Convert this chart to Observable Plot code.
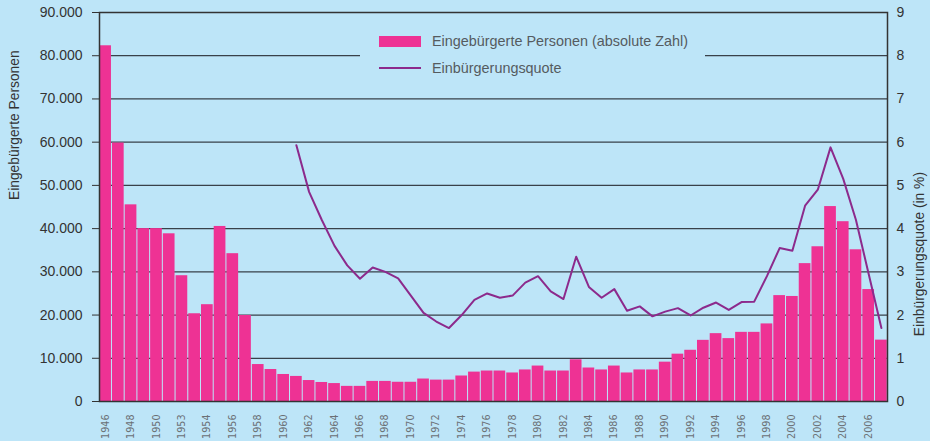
<!DOCTYPE html>
<html>
<head>
<meta charset="utf-8">
<script src="https://cdn.jsdelivr.net/npm/d3@7"></script>
<script src="https://cdn.jsdelivr.net/npm/@observablehq/plot@0.6"></script>
<style>
  html, body { margin: 0; padding: 0; background: #bde5f8; }
  #wrap { position: relative; width: 930px; height: 441px; overflow: hidden; background: #bde5f8; }
  #legend { position: absolute; left: 360px; top: 26px; width: 345px; height: 58px; background: #bde5f8;
            font-family: "Liberation Sans", Arial, sans-serif; font-size: 14.4px; color: #555b60; }
  #legend .item { position: absolute; left: 19px; height: 16px; display: flex; align-items: center; white-space: nowrap; }
  #legend .sw-bar { width: 42px; height: 11px; background: #ee3294; margin-right: 11px; }
  #legend .sw-line { width: 42px; height: 2px; background: #8c2a8c; margin-right: 11px; }
</style>
</head>
<body>
<div id="wrap">
  <div id="chart"></div>
  <div id="legend">
    <div class="item" style="top:7px"><span class="sw-bar"></span><span>Eingebürgerte Personen (absolute Zahl)</span></div>
    <div class="item" style="top:34px"><span class="sw-line"></span><span>Einbürgerungsquote</span></div>
  </div>
</div>
<script>
// ---- data ----
const years = [1946,1947,1948,1949,1950,1951,1952,1953,1954,1955,1956,1957,1958,1959,1960,
  1961,1962,1963,1964,1965,1966,1967,1968,1969,1970,1971,1972,1973,1974,1975,1976,1977,1978,
  1979,1980,1981,1982,1983,1984,1985,1986,1987,1988,1989,1990,1991,1992,1993,1994,1995,1996,
  1997,1998,1999,2000,2001,2002,2003,2004,2005,2006,2007];
const persons = [82300,59800,45500,40000,40000,38800,29100,20300,22400,40500,34200,19900,8550,7400,6250,
  5800,4850,4400,4150,3500,3500,4650,4650,4450,4450,5200,4950,4950,5900,6800,7050,7050,6600,
  7300,8200,7050,7050,9650,7750,7300,8200,6600,7300,7300,9100,10950,11850,14150,15700,14550,16000,
  16000,17950,24500,24300,31900,35800,45100,41600,35100,25900,14200];
const rateYears = [1961,1962,1963,1964,1965,1966,1967,1968,1969,1970,1971,1972,1973,1974,1975,
  1976,1977,1978,1979,1980,1981,1982,1983,1984,1985,1986,1987,1988,1989,1990,1991,1992,1993,
  1994,1995,1996,1997,1998,1999,2000,2001,2002,2003,2004,2005,2006,2007];
const rates = [5.93,4.85,4.2,3.6,3.15,2.84,3.1,3.0,2.85,2.45,2.05,1.85,1.70,2.0,2.35,
  2.5,2.4,2.45,2.75,2.9,2.55,2.37,3.35,2.65,2.4,2.6,2.1,2.2,1.97,2.08,2.16,1.99,2.17,
  2.29,2.12,2.3,2.31,2.9,3.55,3.49,4.53,4.9,5.88,5.15,4.2,2.95,1.70];
const tickYears = [1946,1948,1950,1952,1954,1956,1958,1960,1962,1964,1966,1968,1970,1972,1974,
  1976,1978,1980,1982,1984,1986,1988,1990,1992,1994,1996,1998,2000,2002,2004,2006];
const tickLabels = ["1946","1948","1950","1953","1954","1956","1958","1960","1962","1964","1966","1968","1970","1972","1974",
  "1976","1978","1980","1982","1984","1986","1988","1990","1992","1994","1996","1998","2000","2002","2004","2006"];
const personTicks = [0,10000,20000,30000,40000,50000,60000,70000,80000,90000];
const rateTicks = [0,1,2,3,4,5,6,7,8,9];
const leftTitle = "Eingebürgerte Personen";
const rightTitle = "Einbürgerungsquote (in %)";

// ---- derived tables ----
const RATE_FACTOR = 10000; // secondary axis: 1 % ↔ 10.000 persons
const bars = years.map((year, i) => ({year, value: persons[i]}));
const quote = rateYears.map((year, i) => ({year, rate: rates[i]}));
const labelOf = new Map(tickYears.map((y, i) => [y, tickLabels[i]]));
const de = d3.formatLocale({decimal: ",", thousands: ".", grouping: [3], currency: ["", "€"]}).format(",d");

const chart = Plot.plot({
  width: 930,
  height: 441,
  marginLeft: 99,
  marginRight: 43,
  marginTop: 12,
  marginBottom: 40,
  style: {background: "transparent", fontFamily: "'Liberation Sans', Arial, sans-serif", fontSize: "14px", color: "#333"},
  x: {type: "band", domain: years, paddingInner: 0.08, paddingOuter: 0.02},
  y: {domain: [0, 90000]},
  marks: [
    Plot.ruleY(personTicks, {stroke: "#39414a", strokeWidth: 1.2}),
    Plot.barY(bars, {x: "year", y: "value", fill: "#ee3294"}),
    Plot.line(quote, {x: "year", y: d => d.rate * RATE_FACTOR, stroke: "#8c2a8c", strokeWidth: 2}),
    Plot.frame({stroke: "#333", strokeWidth: 1.5}),
    Plot.axisY({anchor: "left", ticks: personTicks, tickFormat: de, tickSize: 7, tickPadding: 10,
                fontSize: 14, color: "#333", label: null}),
    Plot.axisY({anchor: "right", ticks: rateTicks.map(r => r * RATE_FACTOR), tickFormat: d => String(d / RATE_FACTOR),
                tickSize: 0, tickPadding: 9, fontSize: 14, color: "#333", label: null}),
    Plot.axisX({ticks: tickYears, tickFormat: d => labelOf.get(d), tickRotate: -90, tickSize: 0, tickPadding: 13,
                fontSize: 9.6, fontFamily: "DejaVu Sans", color: "#6b7075", label: null}),
    Plot.text([leftTitle], {frameAnchor: "left", rotate: -90, dx: -85, dy: -7, fontSize: 13.8, fill: "#333"}),
    Plot.text([rightTitle], {frameAnchor: "right", rotate: -90, dx: 32, dy: -35, fontSize: 13.8, fill: "#333"})
  ]
});
document.getElementById("chart").appendChild(chart);
</script>
</body>
</html>
